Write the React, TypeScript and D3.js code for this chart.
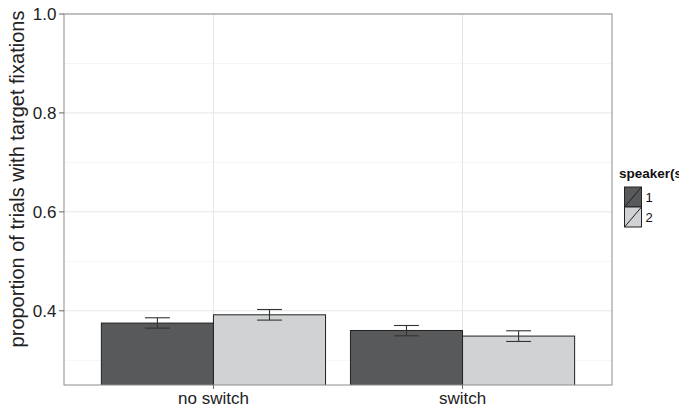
import React from "react";
import * as d3 from "d3";

const conditions = ["no switch", "switch"];
const speakers = ["1", "2"];
const means1 = [0.3752, 0.3602];
const means2 = [0.3919, 0.3489];
const lower1 = [0.365, 0.3495];
const upper1 = [0.3859, 0.3703];
const lower2 = [0.3812, 0.338];
const upper2 = [0.4026, 0.3596];
const yTicks = [0.4, 0.6, 0.8, 1.0];
const yMinor = [0.3, 0.5, 0.7, 0.9];
const fills = ["#58595b", "#d1d2d4"];

const W = 679, H = 409;
const panel = { left: 64, right: 612, top: 14, bottom: 385 };

export default function App() {
  const y = d3.scaleLinear().domain([0.25, 1.0]).range([panel.bottom, panel.top]);
  // discrete positions 1..n with 0.6 expansion like ggplot
  const x = d3.scaleLinear().domain([0.4, conditions.length + 0.6]).range([panel.left, panel.right]);
  const barW = 0.9;
  const means = [means1, means2];
  const lows = [lower1, lower2];
  const ups = [upper1, upper2];
  const errW = 0.1;
  const font = "'Liberation Sans', Arial, Helvetica, sans-serif";

  const bars: any[] = [];
  conditions.forEach((c, i) => {
    speakers.forEach((s, j) => {
      const x0 = i + 1 - barW / 2 + (j * barW) / 2;
      const x1 = x0 + barW / 2;
      const v = means[j][i];
      bars.push({ key: c + s, x0, x1, v, lo: lows[j][i], hi: ups[j][i], j });
    });
  });

  return (
    <svg width={W} height={H} style={{ position: "absolute", left: 0, top: 0, display: "block" }} fontFamily={font}>
      <rect x={0} y={0} width={W} height={H} fill="#fff" />
      <defs>
        <clipPath id="pc">
          <rect x={panel.left} y={panel.top} width={panel.right - panel.left} height={panel.bottom - panel.top} />
        </clipPath>
      </defs>
      {/* grid */}
      {yMinor.map((t) => (
        <line key={"mn" + t} x1={panel.left} x2={panel.right} y1={y(t)} y2={y(t)} stroke="#f2f2f2" strokeWidth={0.8} />
      ))}
      {yTicks.map((t) => (
        <line key={"mj" + t} x1={panel.left} x2={panel.right} y1={y(t)} y2={y(t)} stroke="#e6e6e6" strokeWidth={1} />
      ))}
      {conditions.map((c, i) => (
        <line key={"gx" + c} x1={x(i + 1)} x2={x(i + 1)} y1={panel.top} y2={panel.bottom} stroke="#e6e6e6" strokeWidth={1} />
      ))}
      {/* bars */}
      <g clipPath="url(#pc)">
        {bars.map((b) => (
          <rect key={b.key} x={x(b.x0)} y={y(b.v)} width={x(b.x1) - x(b.x0)} height={panel.bottom + 2 - y(b.v)}
            fill={fills[b.j]} stroke="#222" strokeWidth={1} />
        ))}
      </g>
      {/* error bars */}
      {bars.map((b) => {
        const cx = (b.x0 + b.x1) / 2;
        return (
          <g key={"e" + b.key} stroke="#333" strokeWidth={1.1}>
            <line x1={x(cx)} x2={x(cx)} y1={y(b.hi)} y2={y(b.lo)} />
            <line x1={x(cx - errW / 2)} x2={x(cx + errW / 2)} y1={y(b.hi)} y2={y(b.hi)} />
            <line x1={x(cx - errW / 2)} x2={x(cx + errW / 2)} y1={y(b.lo)} y2={y(b.lo)} />
          </g>
        );
      })}
      {/* border */}
      <rect x={panel.left} y={panel.top} width={panel.right - panel.left} height={panel.bottom - panel.top}
        fill="none" stroke="#8c8c8c" strokeWidth={1} />
      {/* y axis */}
      {yTicks.map((t) => (
        <g key={"yt" + t}>
          <line x1={panel.left - 5} x2={panel.left} y1={y(t)} y2={y(t)} stroke="#666" strokeWidth={1} />
          <text x={panel.left - 7.5} y={y(t)} dy="0.36em" textAnchor="end" fontSize={17} fill="#222">
            {t.toFixed(1)}
          </text>
        </g>
      ))}
      {/* x axis */}
      {conditions.map((c, i) => (
        <g key={"xt" + c}>
          <line x1={x(i + 1)} x2={x(i + 1)} y1={panel.bottom} y2={panel.bottom + 4} stroke="#666" strokeWidth={1} />
          <text x={x(i + 1)} y={404} textAnchor="middle" fontSize={17} fill="#222">{c}</text>
        </g>
      ))}
      <text transform={`translate(24,179) rotate(-90)`} textAnchor="middle" fontSize={20} fill="#222">
        proportion of trials with target fixations
      </text>
      {/* legend */}
      <text x={619} y={178} fontSize={13.5} fontWeight="bold" fill="#111">speaker(s)</text>
      {speakers.map((s, j) => {
        const ky = 187 + j * 20;
        return (
          <g key={"lg" + s}>
            <rect x={624.5} y={ky} width={17} height={20} fill={fills[j]} stroke="#222" strokeWidth={1} />
            <line x1={624.5} y1={ky + 20} x2={641.5} y2={ky} stroke="#222" strokeWidth={1} />
            <text x={645.5} y={ky + 10} dy="0.36em" fontSize={13} fill="#111">{s}</text>
          </g>
        );
      })}
    </svg>
  );
}
